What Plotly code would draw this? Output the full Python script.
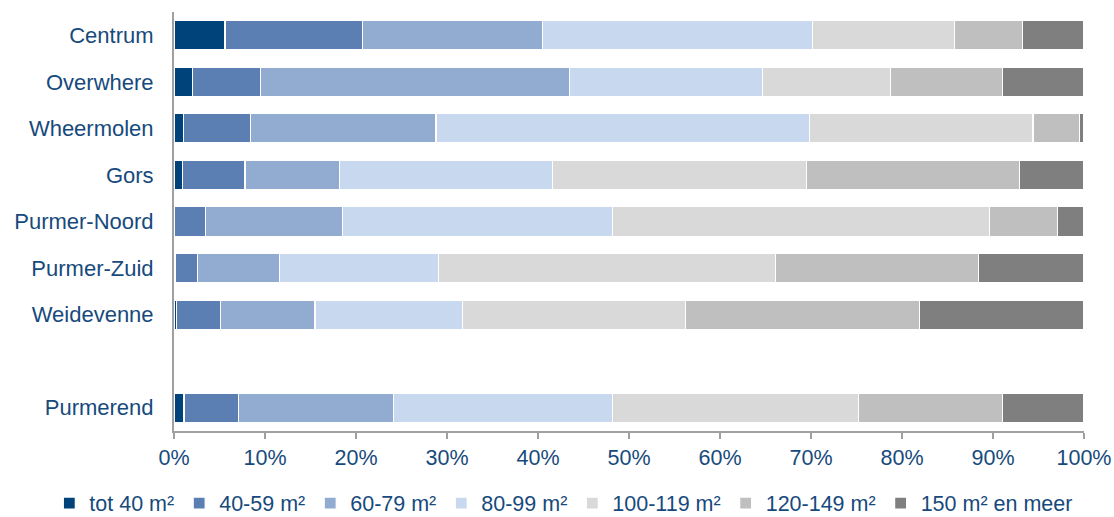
import plotly.graph_objects as go

categories = ["Centrum", "Overwhere", "Wheermolen", "Gors", "Purmer-Noord",
              "Purmer-Zuid", "Weidevenne", "", "Purmerend"]

series_names = ["tot 40 m²", "40-59 m²", "60-79 m²", "80-99 m²",
                "100-119 m²", "120-149 m²", "150 m² en meer"]

# values per area (percent), None for the empty spacer row
tot40    = [5.6, 2.0, 1.0, 0.9, 0.0, 0.2, 0.3, None, 1.1]
m40_59   = [15.1, 7.5, 7.4, 6.9, 3.5, 2.4, 4.8, None, 6.0]
m60_79   = [19.8, 34.0, 20.4, 10.4, 15.0, 9.0, 10.4, None, 17.0]
m80_99   = [29.7, 21.2, 41.0, 23.4, 29.7, 17.5, 16.2, None, 24.1]
m100_119 = [15.6, 14.0, 24.6, 27.9, 41.4, 37.0, 24.5, None, 27.0]
m120_149 = [7.4, 12.3, 5.1, 23.4, 7.5, 22.3, 25.7, None, 15.8]
m150plus = [6.8, 9.0, 0.5, 7.1, 2.9, 11.6, 18.1, None, 9.0]

series_values = [tot40, m40_59, m60_79, m80_99, m100_119, m120_149, m150plus]
colors = ["#00427A", "#5B7FB3", "#92ABD1", "#C8D8EE", "#D9D9D9", "#BFBFBF", "#7F7F7F"]

x_tickvals = list(range(0, 101, 10))
x_ticktext = [f"{v}%" for v in x_tickvals]

text_color = "#174A7C"
font_family = "Liberation Sans, Arial, sans-serif"

positions = list(range(len(categories)))[::-1]  # first category at top

fig = go.Figure()
for name, vals, col in zip(series_names, series_values, colors):
    fig.add_trace(go.Bar(
        name=name,
        y=positions,
        x=vals,
        orientation="h",
        width=0.63,
        marker=dict(color=col, line=dict(color="white", width=1.2)),
    ))

fig.update_layout(
    barmode="stack",
    width=1114, height=517,
    margin=dict(l=174, r=30, t=12, b=86, autoexpand=False),
    paper_bgcolor="white",
    plot_bgcolor="white",
    font=dict(family=font_family, color=text_color, size=21),
    showlegend=True,
    legend=dict(
        orientation="h",
        xref="paper", yref="paper",
        x=-0.137, xanchor="left",
        y=-0.172, yanchor="middle",
        font=dict(size=21.5, color=text_color),
        itemwidth=30,
        traceorder="normal",
        bgcolor="rgba(0,0,0,0)",
    ),
    xaxis=dict(
        range=[0, 100],
        tickvals=x_tickvals,
        ticktext=x_ticktext,
        showgrid=False,
        zeroline=False,
        showline=True,
        linecolor="#A0A0A0",
        linewidth=2,
        ticks="outside",
        ticklen=6,
        tickwidth=2,
        tickcolor="#A0A0A0",
        tickfont=dict(size=21.5, color=text_color),
        automargin=False,
        fixedrange=True,
    ),
    yaxis=dict(
        range=[-0.5, len(categories) - 0.5],
        tickvals=positions,
        ticktext=categories,
        showgrid=False,
        zeroline=False,
        showline=True,
        linecolor="#A0A0A0",
        linewidth=2,
        ticks="",
        ticklabelstandoff=14,
        tickfont=dict(size=22, color=text_color),
        automargin=False,
        fixedrange=True,
    ),
)

fig.write_html("out.html")
